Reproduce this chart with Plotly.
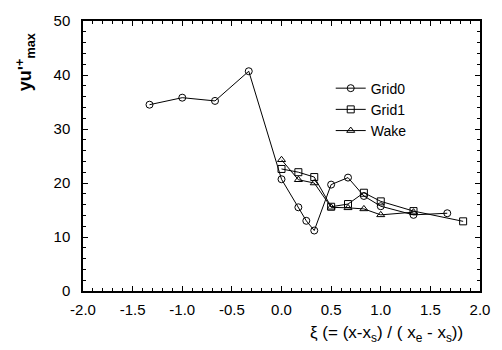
import plotly.graph_objects as go

# Data
grid0_x = [-1.33, -1.0, -0.67, -0.33, 0.0, 0.17, 0.25, 0.33, 0.5, 0.67, 0.83, 1.0, 1.33, 1.67]
grid0_y = [34.5, 35.8, 35.2, 40.7, 20.7, 15.5, 13.0, 11.2, 19.7, 21.0, 17.6, 15.7, 14.1, 14.4]

grid1_x = [0.0, 0.17, 0.33, 0.5, 0.67, 0.83, 1.0, 1.33, 1.83]
grid1_y = [22.6, 22.0, 21.1, 15.6, 16.1, 18.2, 16.6, 14.8, 12.9]

wake_x = [0.0, 0.17, 0.33, 0.5, 0.67, 0.83, 1.0, 1.33]
wake_y = [24.3, 20.6, 20.0, 15.5, 15.4, 15.2, 14.1, 14.6]

series = [
    ("Grid0", grid0_x, grid0_y, "circle-open"),
    ("Grid1", grid1_x, grid1_y, "square-open"),
    ("Wake", wake_x, wake_y, "triangle-up-open"),
]

x_ticks = [-2.0, -1.5, -1.0, -0.5, 0.0, 0.5, 1.0, 1.5, 2.0]
y_ticks = [0, 10, 20, 30, 40, 50]

FONT = "Liberation Sans, Arial, sans-serif"

fig = go.Figure()
for name, xs, ys, sym in series:
    fig.add_trace(go.Scatter(
        x=xs, y=ys, name=name, mode="lines+markers",
        line=dict(color="black", width=1),
        marker=dict(symbol=sym, size=7, color="black", line=dict(width=1, color="black")),
    ))

axis_common = dict(
    showgrid=False, zeroline=False, showline=True, linecolor="black", linewidth=1.5,
    mirror="ticks", ticks="inside", ticklen=5, tickcolor="black", tickwidth=1,
    tickfont=dict(family=FONT, size=15, color="black"),
)

fig.update_xaxes(range=[-2.0, 2.0], tickvals=x_ticks,
                 ticktext=[f"{v:.1f}" for v in x_ticks],
                 minor=dict(dtick=0.1, ticks="inside", ticklen=3, tickcolor="black"),
                 ticklabelstandoff=4,
                 **axis_common)
fig.update_yaxes(range=[0, 50], tickvals=y_ticks,
                 minor=dict(dtick=2, ticks="inside", ticklen=3, tickcolor="black"),
                 ticklabelstandoff=8,
                 **axis_common)

fig.add_annotation(
    text="<b>yu'<sup>+</sup><sub>max</sub></b>", textangle=-90,
    xref="paper", yref="paper", x=-0.145, y=0.849, xanchor="center", yanchor="middle",
    showarrow=False,
    font=dict(family=FONT, size=18, color="black"),
)
fig.add_annotation(
    text="ξ (= (x-x<sub>s</sub>) / ( x<sub>e</sub> - x<sub>s</sub>))",
    xref="paper", yref="paper", x=0.764, y=-0.16, xanchor="center", yanchor="middle",
    showarrow=False,
    font=dict(family=FONT, size=17, color="black"),
)

fig.update_layout(
    width=502, height=350,
    margin=dict(l=83, r=12, t=13, b=59),
    paper_bgcolor="white", plot_bgcolor="white",
    showlegend=True,
    legend=dict(x=0.624, y=0.809, xanchor="left", yanchor="top",
                bgcolor="rgba(0,0,0,0)", tracegroupgap=0,
                font=dict(family=FONT, size=14, color="black"),
                itemwidth=30),
)

fig.write_html("out.html")
